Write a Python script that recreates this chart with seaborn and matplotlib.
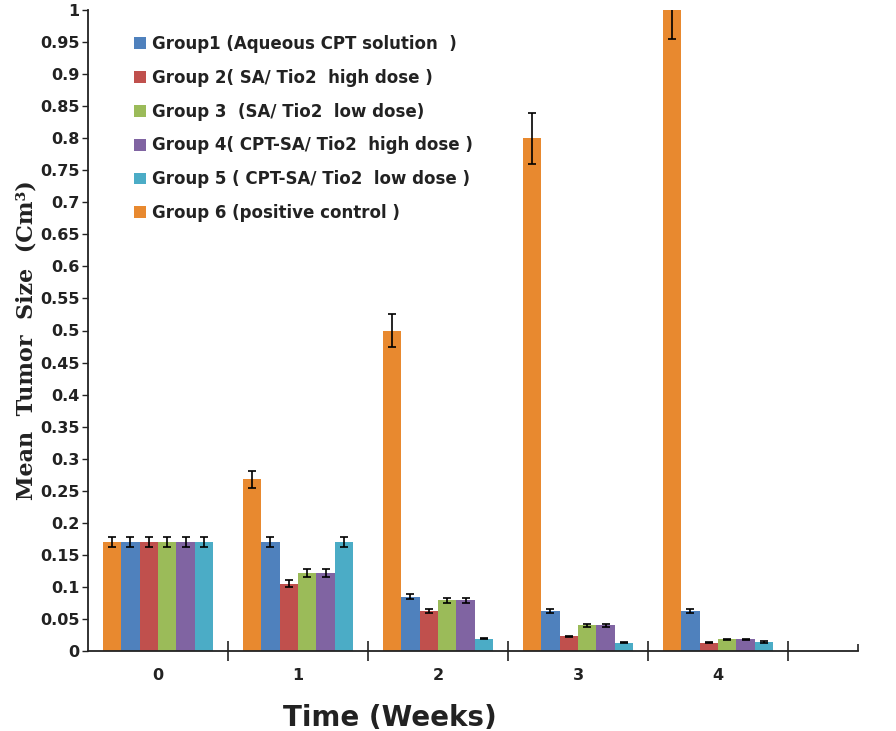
import numpy as np
import pandas as pd
import seaborn as sns
import matplotlib
matplotlib.use("Agg")
import matplotlib.pyplot as plt
from matplotlib.ticker import MultipleLocator, FixedLocator

# ---- data ----
weeks = ["0", "1", "2", "3", "4"]
week_order = ["0", "1", "2", "3", "4", "5"]  # trailing empty slot
group_names = [
    "Group1 (Aqueous CPT solution  )",
    "Group 2( SA/ Tio2  high dose )",
    "Group 3  (SA/ Tio2  low dose)",
    "Group 4( CPT-SA/ Tio2  high dose )",
    "Group 5 ( CPT-SA/ Tio2  low dose )",
    "Group 6 (positive control )",
]
g1 = [0.170, 0.170, 0.085, 0.063, 0.063]
g2 = [0.170, 0.105, 0.063, 0.023, 0.013]
g3 = [0.170, 0.122, 0.079, 0.040, 0.018]
g4 = [0.170, 0.122, 0.079, 0.040, 0.018]
g5 = [0.170, 0.170, 0.019, 0.013, 0.014]
g6 = [0.170, 0.268, 0.500, 0.800, 1.000]
e1 = [0.008, 0.008, 0.004, 0.003, 0.003]
e2 = [0.008, 0.005, 0.003, 0.001, 0.001]
e3 = [0.008, 0.006, 0.004, 0.002, 0.001]
e4 = [0.008, 0.006, 0.004, 0.002, 0.001]
e5 = [0.008, 0.008, 0.001, 0.001, 0.001]
e6 = [0.008, 0.013, 0.025, 0.040, 0.045]
colors = ["#4F81BD", "#C0504D", "#9BBB59", "#8064A2", "#4BACC6", "#E8892F"]

values = [g1, g2, g3, g4, g5, g6]
errors = [e1, e2, e3, e4, e5, e6]
rows = []
for name, vals, errs in zip(group_names, values, errors):
    for w, v, e in zip(weeks, vals, errs):
        rows.append({"week": w, "group": name, "value": v, "err": e})
df = pd.DataFrame(rows)

# bar order within a week: positive control first, then Group1..Group5
hue_order = [group_names[5]] + group_names[:5]
palette = dict(zip(group_names, colors))

sns.set_style("white")
fig = plt.figure(figsize=(8.96, 7.31), dpi=100)
ax = fig.add_axes([88 / 896, 1 - 651 / 731, 770 / 896, 641 / 731])

sns.barplot(data=df, x="week", y="value", hue="group", order=week_order,
            hue_order=hue_order, palette=palette, saturation=1, width=0.79,
            errorbar=None, ax=ax, linewidth=0, legend=True)

# error bars, placed on bar centres
for container, name in zip(ax.containers, hue_order):
    sub = df[df["group"] == name].set_index("week")
    xs, ys, es = [], [], []
    for patch, w in zip(container.patches, weeks):
        xs.append(patch.get_x() + patch.get_width() / 2)
        ys.append(sub.loc[w, "value"])
        es.append(sub.loc[w, "err"])
    ax.errorbar(xs, ys, yerr=es, fmt="none", ecolor="black",
                elinewidth=1.2, capsize=3, capthick=1.2, zorder=5)

ax.set_xlim(-0.5, 5.0)
ax.set_ylim(0, 1.0)
ax.yaxis.set_major_locator(MultipleLocator(0.05))
ax.set_yticklabels(["%g" % round(t, 2) for t in ax.get_yticks()])

ax.xaxis.set_major_locator(FixedLocator(range(6)))
ax.set_xticklabels(weeks + [""])
ax.xaxis.set_minor_locator(FixedLocator([0.5, 1.5, 2.5, 3.5, 4.5]))
ax.tick_params(axis="x", which="major", direction="in", length=5, width=1.2,
               color="#222", labelsize=11.5, pad=12, bottom=True)
ax.tick_params(axis="x", which="minor", direction="inout", length=14,
               width=1.2, color="#222", bottom=True)
ax.tick_params(axis="y", which="major", direction="out", length=4, width=1,
               color="#222", labelsize=11.5, pad=2, left=True)
for lab in ax.get_xticklabels() + ax.get_yticklabels():
    lab.set_fontweight("bold")
    lab.set_color("#222")

for s in ["top", "right"]:
    ax.spines[s].set_visible(False)
for s in ["left", "bottom"]:
    ax.spines[s].set_color("#222")
    ax.spines[s].set_linewidth(1.3)

ax.set_xlabel("Time (Weeks)", fontsize=20, fontweight="bold", color="#222")
ax.xaxis.set_label_coords((390 - 88) / 770, -0.082)
ax.set_ylabel("Mean  Tumor  Size  (Cm³)", fontsize=16, fontweight="bold",
              family="DejaVu Serif", color="#222")
ax.yaxis.set_label_coords(-0.066, 0.485)

handles, labels = ax.get_legend_handles_labels()
hmap = dict(zip(labels, handles))
leg = ax.legend([hmap[n] for n in group_names], group_names,
                loc="upper left", bbox_to_anchor=(31 / 770, 1 - 10 / 641),
                frameon=False, handlelength=0.7, handleheight=0.7,
                handletextpad=0.4, labelspacing=0.95,
                prop={"weight": "bold", "size": 12})
for t in leg.get_texts():
    t.set_color("#222")

fig.savefig("out.png", dpi=100)
